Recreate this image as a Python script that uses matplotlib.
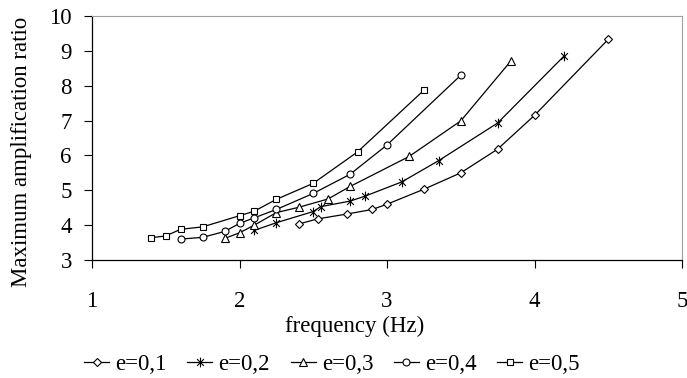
import numpy as np
import matplotlib.pyplot as plt
from matplotlib.path import Path

plt.rcParams['font.family'] = ['Liberation Serif', 'DejaVu Serif']

# data
f1 = [2.4, 2.53, 2.73, 2.9, 3.0, 3.25, 3.5, 3.75, 4.0, 4.5]
v1 = [4.03, 4.18, 4.32, 4.45, 4.60, 5.03, 5.50, 6.18, 7.15, 9.33]
f2 = [2.1, 2.25, 2.5, 2.55, 2.75, 2.85, 3.1, 3.35, 3.75, 4.2]
v2 = [3.85, 4.07, 4.39, 4.53, 4.69, 4.83, 5.24, 5.85, 6.93, 8.85]
f3 = [1.9, 2.0, 2.1, 2.25, 2.4, 2.6, 2.75, 3.15, 3.5, 3.84]
v3 = [3.62, 3.78, 4.0, 4.36, 4.51, 4.75, 5.11, 5.97, 6.99, 8.71]
f4 = [1.6, 1.75, 1.9, 2.0, 2.1, 2.25, 2.5, 2.75, 3.0, 3.5]
v4 = [3.60, 3.65, 3.82, 4.05, 4.21, 4.45, 4.91, 5.46, 6.30, 8.30]
f5 = [1.4, 1.5, 1.6, 1.75, 2.0, 2.1, 2.25, 2.5, 2.8, 3.25]
v5 = [3.64, 3.69, 3.88, 3.95, 4.27, 4.40, 4.74, 5.20, 6.10, 7.87]
labels = ['e=0,1', 'e=0,2', 'e=0,3', 'e=0,4', 'e=0,5']

# asterisk marker like the excel "star"
star = Path([(0, -1), (0, 1), (-0.7, -0.7), (0.7, 0.7), (-0.7, 0.7), (0.7, -0.7)],
            [Path.MOVETO, Path.LINETO, Path.MOVETO, Path.LINETO, Path.MOVETO, Path.LINETO])

series = [(f1, v1, 'D', 4), (f2, v2, star, 7), (f3, v3, '^', 6), (f4, v4, 'o', 5), (f5, v5, 's', 5)]

fs = 16.5
fig = plt.figure(figsize=(6.87, 3.78), dpi=100)
ax = fig.add_axes([92/687, 1 - 260/378, 590/687, 244/378])

for (f, v, m, ms), lab in zip(series, labels):
    ax.plot(f, v, color='black', lw=0.9, marker=m, ms=ms, mfc='white', mec='black', mew=0.8, label=lab)

ax.set_xlim(1, 5)
ax.set_ylim(3, 10)
ax.set_xticks([1, 2, 3, 4, 5])
ax.set_yticks(range(3, 11))
ax.tick_params(axis='both', labelsize=fs, direction='out', length=6, width=0.8)
ax.tick_params(axis='x', pad=16)
ax.tick_params(axis='y', pad=8.5)
ax.spines['top'].set_color('#a0a0a0')
ax.spines['right'].set_color('#a0a0a0')
ax.spines['left'].set_linewidth(0.9)
ax.spines['bottom'].set_linewidth(0.9)

fig.text(22/687, 1 - 152/378, 'Maximum amplification ratio', rotation=90,
         ha='center', va='center', fontsize=fs)
fig.text(355/687, 1 - 326/378, 'frequency (Hz)', ha='center', va='center', fontsize=fs)

fig.legend(loc='center', bbox_to_anchor=(332/687, 1 - 364/378), ncol=5, frameon=False,
           fontsize=fs, handlelength=1.1, columnspacing=0.9, handletextpad=0.26)

fig.savefig('out.png', dpi=100)
